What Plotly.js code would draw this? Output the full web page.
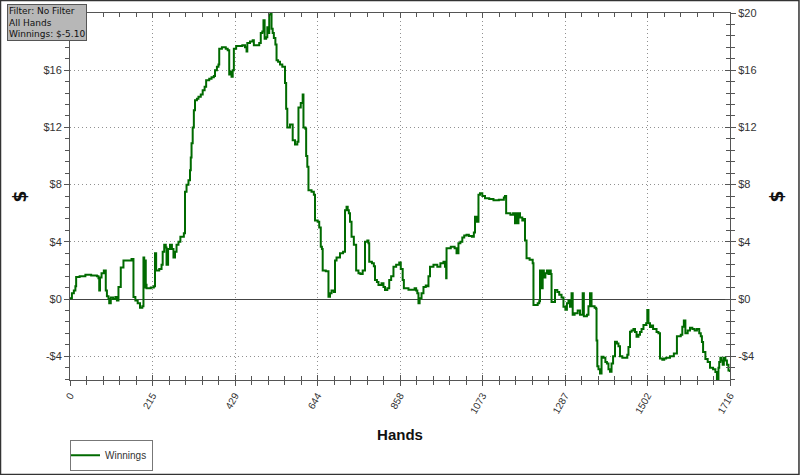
<!DOCTYPE html>
<html>
<head>
<meta charset="utf-8">
<script src="https://cdn.plot.ly/plotly-3.0.1.min.js"></script>
<style>
html,body{margin:0;padding:0;background:#fff;}
#chart{width:800px;height:475px;}
</style>
</head>
<body>
<div id="chart"></div>
<script>
// Data (step series: hand number -> cumulative winnings in $)
var hands = [0,5,10,14,16,25,40,55,70,74,76,78,82,88,93,96,100,102,106,112,118,122,126,132,139,150,160,165,170,176,182,188,191,193,195,197,199,210,218,221,224,232,238,241,245,249,251,255,260,265,269,273,277,282,287,296,299,303,308,
312,314,316,319,322,325,330,334,340,345,350,354,362,368,374,377,382,386,388,395,405,410,414,418,420,423,426,432,440,448,455,459,461,468,475,478,488,492,496,500,503,506,510,513,516,518,522,524,527,530,534,537,541,546,552,559,562,565,
572,579,585,591,594,600,605,607,612,614,617,620,628,634,637,644,648,652,655,657,665,672,676,680,686,689,693,702,710,715,719,722,725,728,732,738,744,750,755,761,767,773,776,778,785,790,793,798,802,810,815,819,825,830,835,841,848,856,860,865,868,880,890,896,900,903,906,909,914,919,925,930,932,936,945,955,963,971,975,978,979,990,1000,1005,1010,1015,1020,1025,1031,1037,1045,1050,1053,1057,1062,1066,1072,1079,1090,1101,1115,1128,1131,1134,1145,1152,1157,1160,1164,1166,1170,1176,1180,1183,1187,1195,1203,1205,1212,1216,1220,1222,1226,1229,1232,1236,1240,1244,1247,1250,1252,1258,1261,1267,1272,1278,1283,1288,1292,1296,1300,1304,1307,1312,1320,1326,1333,1336,1344,1348,1352,1356,1360,1364,1368,1369,1371,1374,1378,1382,1387,1392,1396,1400,1404,1408,1412,1417,1422,1426,1430,1436,1445,1449,1452,1456,1460,1465,1469,1473,1478,1482,1486,1491,1498,1501,1504,1508,1512,1516,1520,1525,1530,1534,1540,1545,1550,1560,1570,1577,1578,1588,1592,1596,1600,1606,1612,1618,1624,1630,1636,1640,1643,1646,1652,1658,1664,1672,1678,1682,1686,1688,1691,1694,1697,1700,1704,1708,1712,1716];
var winnings = [0.05,0.4,0.6,0.9,1.55,1.6,1.7,1.65,1.6,1.45,0.6,1.5,1.8,2.0,0.6,0.2,0,-0.3,0.1,0,0.15,-0.1,0.85,2.2,2.7,2.7,2.8,0.15,-0.1,-0.3,-0.6,-0.5,2.9,0.8,2.7,1.0,0.75,0.8,0.9,3.2,2.0,2.1,2.4,3.3,3.8,3.6,2.4,3.5,3.8,3.5,2.9,3.3,3.8,4.0,4.35,4.6,7.5,8.0,8.3,
9.0,9.9,10.9,12.0,13.2,13.9,14.0,14.15,14.3,14.6,14.85,15.3,15.4,15.5,15.6,16.0,16.25,16.4,17.5,17.6,17.5,17.4,15.7,15.9,15.55,16.0,17.5,17.7,17.7,17.75,17.6,17.3,17.9,18.0,18.1,17.75,17.75,17.9,18.6,18.7,19.5,18.2,18.3,19.0,18.6,19.9,20.0,18.9,18.6,18.25,17.8,16.7,16.6,16.4,16.25,15.1,13.3,12.0,
12.2,11.1,10.8,11.0,13.4,13.7,14.3,12.0,11.9,10.0,9.25,7.6,7.5,7.3,5.5,5.4,5.0,3.65,3.5,2.0,1.95,0.16,0.4,0.6,0.5,2.7,2.9,3.2,3.3,6.2,6.45,6.2,6.0,5.4,4.35,3.8,2.0,1.8,1.75,2.0,4.0,4.1,3.9,2.6,2.5,2.3,1.33,1.2,0.98,1.1,0.85,0.63,0.75,1.33,1.6,2.26,2.4,2.55,2.1,1.33,0.75,0.65,0.65,0.75,0.6,0.4,-0.3,0.05,0.4,0.85,0.95,0.9,1.6,2.26,2.4,2.26,2.5,2.6,2.26,1.45,3.55,3.65,3.55,3.2,3.9,4.0,4.3,4.45,4.5,4.4,4.35,4.65,5.75,5.4,7.3,7.4,7.2,7.05,7.0,6.9,6.95,7.1,7.2,6.0,5.9,6.0,5.3,6.0,5.3,6.0,5.7,5.5,5.6,4.1,2.85,2.75,2.5,-0.42,-0.42,-0.3,-0.15,2.0,0.75,2.0,1.5,1.8,2.0,1.75,2.0,1.75,-0.2,-0.2,0.63,0.5,0.3,0.1,-0.54,-0.75,-0.3,-0.1,-0.54,0.4,-1.1,-1.0,-0.8,-1.1,0.4,-1.2,-1.1,-0.5,0.4,-0.5,-0.5,-0.6,-0.7,-2.9,-4.7,-4.9,-5.2,-4.03,-4.1,-4.4,-4.5,-4.9,-5.08,-4.5,-4.0,-2.98,-3.1,-3.3,-4.0,-4.1,-4.1,-3.9,-3.35,-2.28,-2.2,-2.1,-2.3,-2.63,-2.5,-2.3,-2.1,-1.82,-1.7,-0.77,-1.7,-1.95,-1.85,-2.1,-2.1,-2.3,-2.4,-4.15,-4.25,-4.15,-4.1,-4.0,-3.8,-3.8,-2.6,-2.5,-1.94,-1.5,-2.4,-2.2,-2.0,-2.1,-2.2,-2.1,-2.4,-2.6,-3.0,-3.7,-4.2,-4.4,-4.8,-4.9,-5.1,-5.66,-4.8,-4.4,-4.1,-4.3,-4.6,-4.1,-4.3,-4.6,-5.0,-5.1];

var xTickVals = [0,214.5,429,643.5,858,1072.5,1287,1501.5,1716];
var xTickText = ['0','215','429','644','858','1073','1287','1502','1716'];
var yTickVals = [-4,0,4,8,12,16,20];
var yTickText = ['-$4','$0','$4','$8','$12','$16','$20'];
var yTickTextLeft = ['-$4','$0','$4','$8','$12','$16',''];  // left $20 is hidden under the info box
var seriesName = 'Winnings';
var infoLines = ['Filter: No Filter','All Hands','Winnings: $-5.10'];

var lineCol = '#555555';
var gridCol = '#909090';
var tickFont = {family:'Liberation Sans, Arial, sans-serif', size:11, color:'#333'};
var titleFontY = {family:'DejaVu Sans, sans-serif', size:17, color:'#111', weight:'bold'};

var xRange = [0,1716];
var yRange = [-5.66,20];

var trace = {
  x: hands, y: winnings, type:'scatter', mode:'lines', name: seriesName,
  line:{shape:'hv', color:'#006a00', width:2}, hoverinfo:'skip'
};
// empty helper traces so the mirrored axes get drawn
var helper2 = {x:[], y:[], xaxis:'x2', yaxis:'y2', type:'scatter', mode:'lines', showlegend:false, hoverinfo:'skip'};
var helper3 = {x:[], y:[], xaxis:'x3', yaxis:'y3', type:'scatter', mode:'lines', showlegend:false, hoverinfo:'skip'};

function minorX(dir){return {tickmode:'linear', tick0:0, dtick:42.9, ticks:dir, ticklen:4, tickcolor:lineCol, showgrid:false};}
function minorY(dir){return {tickmode:'linear', tick0:0, dtick:0.8, ticks:dir, ticklen:4, tickcolor:lineCol, showgrid:false};}

var layout = {
  width:800, height:475,
  margin:{l:70, r:70, t:13, b:95, pad:0, autoexpand:false},
  paper_bgcolor:'#ffffff', plot_bgcolor:'#ffffff',
  showlegend:true,
  legend:{x:0, y:-0.163, xanchor:'left', yanchor:'top', bgcolor:'#fff', bordercolor:'#777', borderwidth:1,
          font:{family:'Liberation Sans, Arial, sans-serif', size:10, color:'#333'}, itemwidth:30,
          tracegroupgap:0, indentation:-6},
  xaxis:{range:xRange, autorange:false, automargin:false, tickmode:'array', tickvals:xTickVals, ticktext:xTickText,
         tickangle:-60, tickfont:{family:'Liberation Sans, Arial, sans-serif', size:10, color:'#333'},
         ticks:'outside', ticklen:5, tickcolor:lineCol, showline:true, linecolor:lineCol, linewidth:1,
         showgrid:true, gridcolor:gridCol, griddash:'1px,3px', gridwidth:1, zeroline:false,
         minor:minorX('outside'),
         title:{text:'Hands', standoff:14, font:{family:'Liberation Sans, Arial, sans-serif', size:15, color:'#111', weight:'bold'}}},
  xaxis2:{overlaying:'x', side:'top', anchor:'y2', range:xRange, autorange:false, automargin:false,
          tickmode:'array', tickvals:xTickVals, showticklabels:false,
          ticks:'inside', ticklen:5, tickcolor:lineCol, showline:true, linecolor:lineCol, linewidth:1,
          showgrid:false, zeroline:false, minor:minorX('inside')},
  xaxis3:{overlaying:'x', side:'bottom', anchor:'y3', range:xRange, autorange:false, automargin:false,
          tickmode:'array', tickvals:xTickVals, showticklabels:false,
          ticks:'inside', ticklen:5, tickcolor:lineCol, showline:false,
          showgrid:false, zeroline:false, minor:minorX('inside')},
  yaxis:{range:yRange, autorange:false, automargin:false, tickmode:'array', tickvals:yTickVals, ticktext:yTickTextLeft, tickfont:tickFont,
         ticks:'outside', ticklen:5, tickcolor:lineCol, showline:true, linecolor:lineCol, linewidth:1,
         showgrid:true, gridcolor:gridCol, griddash:'1px,3px', gridwidth:1,
         zeroline:true, zerolinecolor:'#444', zerolinewidth:1,
         minor:minorY('outside'),
         title:{text:'$', font:titleFontY}},
  yaxis2:{overlaying:'y', side:'right', anchor:'x2', range:yRange, autorange:false, automargin:false,
          tickmode:'array', tickvals:yTickVals, ticktext:yTickText, tickfont:tickFont,
          ticks:'outside', ticklen:5, tickcolor:lineCol, showline:true, linecolor:lineCol, linewidth:1,
          showgrid:false, zeroline:false, minor:minorY('outside'),
          title:{text:'$', font:titleFontY}},
  yaxis3:{overlaying:'y', side:'right', anchor:'x3', range:yRange, autorange:false, automargin:false,
          tickmode:'array', tickvals:yTickVals, showticklabels:false,
          ticks:'inside', ticklen:5, tickcolor:lineCol, showline:false,
          showgrid:false, zeroline:false, minor:minorY('inside')},
  annotations:[{
    xref:'paper', yref:'paper', x:-0.0955, y:1.0245, xanchor:'left', yanchor:'top', align:'left',
    text: infoLines.join('<br>'), showarrow:false,
    font:{family:'DejaVu Sans, sans-serif', size:9, color:'#111'},
    bgcolor:'#b7b7b7', bordercolor:'#555', borderwidth:1, borderpad:1
  }],
  shapes:[{type:'rect', xref:'paper', yref:'paper', x0:-0.1053, x1:1.1045, y0:-0.2575, y1:1.0341,
           line:{color:'#333', width:1.5}, fillcolor:'rgba(0,0,0,0)', layer:'above'}]
};

Plotly.newPlot('chart', [trace, helper2, helper3], layout, {staticPlot:true, displayModeBar:false});
</script>
</body>
</html>
